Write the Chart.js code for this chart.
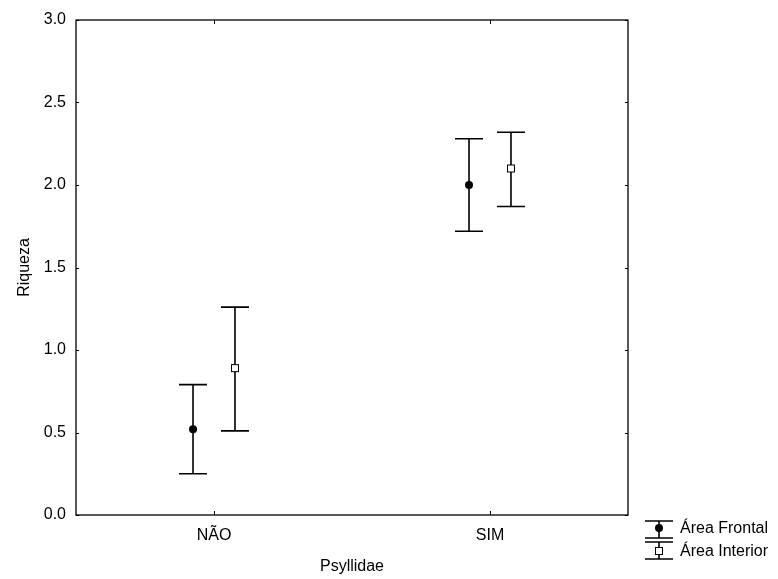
<!DOCTYPE html>
<html>
<head>
<meta charset="utf-8">
<script src="https://cdn.jsdelivr.net/npm/chart.js@4/dist/chart.umd.min.js"></script>
<style>
  html, body { margin: 0; padding: 0; background: #fff; }
  #wrap { width: 778px; height: 579px; }
</style>
</head>
<body>
<div id="wrap"><canvas id="myChart" width="778" height="579"></canvas></div>
<script>
'use strict';

var categories = ['NÃO', 'SIM'];
var seriesNames = ['Área Frontal', 'Área Interior'];
var frontalMean = [0.52, 2.00];
var frontalLow = [0.25, 1.72];
var frontalHigh = [0.79, 2.28];
var interiorMean = [0.89, 2.10];
var interiorLow = [0.51, 1.87];
var interiorHigh = [1.26, 2.32];
var yTicks = [0, 0.5, 1.0, 1.5, 2.0, 2.5, 3.0];

var FONT = "'Liberation Sans', Arial, sans-serif";

function ranges(lo, hi) {
    var out = [];
    for (var i = 0; i < lo.length; i++) out.push([lo[i], hi[i]]);
    return out;
}

function drawMarker(ctx, kind, x, y) {
    ctx.save();
    ctx.lineWidth = 1;
    ctx.strokeStyle = '#000';
    if (kind === 'circle') {
        ctx.fillStyle = '#000';
        ctx.beginPath();
        ctx.arc(x, y, 4, 0, Math.PI * 2);
        ctx.fill();
    } else {
        ctx.fillStyle = '#fff';
        ctx.fillRect(x - 3.5, y - 3.5, 7, 7);
        ctx.strokeRect(x - 3.5, y - 3.5, 7, 7);
    }
    ctx.restore();
}

function drawWhisker(ctx, x, yTop, yBot, half) {
    ctx.beginPath();
    ctx.moveTo(x, yTop); ctx.lineTo(x, yBot);
    ctx.moveTo(x - half, yTop); ctx.lineTo(x + half, yTop);
    ctx.moveTo(x - half, yBot); ctx.lineTo(x + half, yBot);
    ctx.stroke();
}

// error bars, frame, inward ticks and the legend
var errorBarPlugin = {
    id: 'errorBars',
    afterDatasetsDraw: function (chart) {
        var ctx = chart.ctx;
        var ys = chart.scales.y;
        var xs = chart.scales.x;
        var area = chart.chartArea;

        ctx.save();
        chart.data.datasets.forEach(function (ds, di) {
            var meta = chart.getDatasetMeta(di);
            meta.data.forEach(function (el, i) {
                var x = el.x;
                var yTop = ys.getPixelForValue(ds.data[i][1]);
                var yBot = ys.getPixelForValue(ds.data[i][0]);
                ctx.strokeStyle = '#000';
                ctx.lineWidth = 1.6;
                drawWhisker(ctx, x, yTop, yBot, el.width / 2);
                drawMarker(ctx, ds.marker, x, ys.getPixelForValue(ds.means[i]));
            });
        });

        // frame
        ctx.strokeStyle = '#000';
        ctx.lineWidth = 1.3;
        ctx.strokeRect(area.left, area.top, area.right - area.left, area.bottom - area.top);

        // inward ticks
        ctx.lineWidth = 1;
        ctx.beginPath();
        yTicks.forEach(function (v) {
            var py = Math.round(ys.getPixelForValue(v)) + 0.5;
            ctx.moveTo(area.left, py); ctx.lineTo(area.left + 3, py);
            ctx.moveTo(area.right, py); ctx.lineTo(area.right - 3, py);
        });
        categories.forEach(function (c, i) {
            var px = Math.round(xs.getPixelForValue(i)) + 0.5;
            ctx.moveTo(px, area.bottom); ctx.lineTo(px, area.bottom - 4);
            ctx.moveTo(px, area.top); ctx.lineTo(px, area.top + 4);
        });
        ctx.stroke();

        // legend
        var lx = 659, half = 14;
        var rows = [
            { name: seriesNames[0], marker: 'circle', top: 521, bot: 538, mid: 528 },
            { name: seriesNames[1], marker: 'square', top: 542, bot: 559, mid: 551 }
        ];
        ctx.font = '16px ' + FONT;
        ctx.textBaseline = 'middle';
        rows.forEach(function (r) {
            ctx.strokeStyle = '#000';
            ctx.lineWidth = 1.6;
            drawWhisker(ctx, lx, r.top, r.bot, half);
            drawMarker(ctx, r.marker, lx, r.mid);
            ctx.fillStyle = '#000';
            ctx.fillText(r.name, 680, r.mid + 1);
        });
        ctx.restore();
    }
};

var config = {
    type: 'bar',
    data: {
        labels: categories,
        datasets: [
            {
                label: seriesNames[0],
                data: ranges(frontalLow, frontalHigh),
                means: frontalMean,
                marker: 'circle',
                backgroundColor: 'rgba(0,0,0,0)',
                borderWidth: 0
            },
            {
                label: seriesNames[1],
                data: ranges(interiorLow, interiorHigh),
                means: interiorMean,
                marker: 'square',
                backgroundColor: 'rgba(0,0,0,0)',
                borderWidth: 0
            }
        ]
    },
    options: {
        responsive: false,
        animation: false,
        categoryPercentage: 0.304,
        barPercentage: 0.667,
        layout: { padding: { left: 0, right: 150, top: 20, bottom: 0 } },
        plugins: {
            legend: { display: false },
            tooltip: { enabled: false }
        },
        scales: {
            x: {
                grid: { display: false, drawTicks: false },
                border: { display: false },
                ticks: { color: '#000', padding: 11, font: { family: FONT, size: 16 } },
                title: {
                    display: true, text: 'Psyllidae', color: '#000',
                    font: { family: FONT, size: 16 }, padding: { top: 0, bottom: 3 }
                },
                afterFit: function (s) { s.height = 64; }
            },
            y: {
                min: 0, max: 3,
                grid: { display: false, drawTicks: false },
                border: { display: false },
                afterBuildTicks: function (s) {
                    s.ticks = yTicks.map(function (v) { return { value: v }; });
                },
                ticks: {
                    color: '#000', padding: 10, font: { family: FONT, size: 16 },
                    callback: function (v) { return Number(v).toFixed(1); }
                },
                title: {
                    display: true, text: 'Riqueza', color: '#000',
                    font: { family: FONT, size: 16 }, padding: { top: 15, bottom: 0 }
                },
                afterFit: function (s) { s.width = 76; }
            }
        }
    },
    plugins: [errorBarPlugin]
};

var ctx = document.getElementById('myChart').getContext('2d');
window.myChart = new Chart(ctx, config);
</script>
</body>
</html>
